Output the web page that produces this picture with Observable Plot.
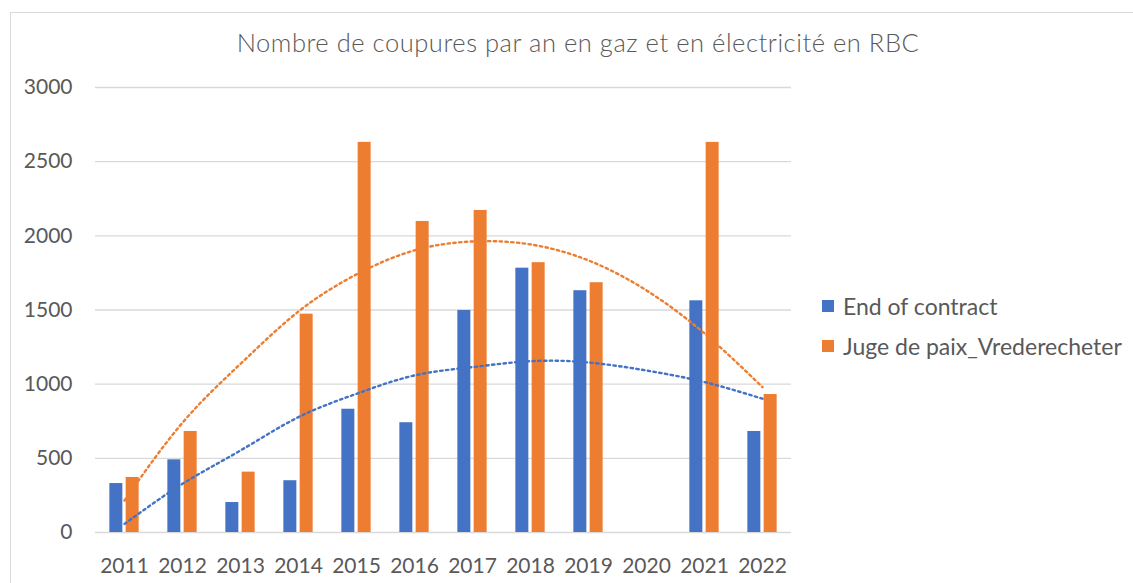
<!DOCTYPE html>
<html>
<head>
<meta charset="utf-8">
<script src="https://cdn.jsdelivr.net/npm/d3@7"></script>
<script src="https://cdn.jsdelivr.net/npm/@observablehq/plot@0.6"></script>
<style>
  html, body { margin: 0; padding: 0; background: #fff; }
  body { width: 1133px; height: 583px; position: relative; overflow: hidden; font-family: Lato, "Open Sans", sans-serif; color: #595959; }
  #frame { position: absolute; left: 10px; top: 12px; width: 1140px; height: 600px; border: 1px solid #d9d9d9; box-sizing: border-box; }
  #title { position: absolute; left: 0; width: 1156px; top: 27px; text-align: center; font-size: 25.5px; letter-spacing: 0.55px; font-weight: 300; color: #595959; white-space: nowrap; }
  #chart { position: absolute; left: 0; top: 60px; }
  #legend { position: absolute; left: 822px; top: 286px; font-size: 23px; color: #595959; }
  .item { display: flex; align-items: center; height: 40px; white-space: nowrap; }
  .sw { width: 12px; height: 12px; margin-right: 9px; }
</style>
</head>
<body>
<div id="frame"></div>
<div id="title">Nombre de coupures par an en gaz et en électricité en RBC</div>
<div id="chart"></div>
<div id="legend"></div>
<script>
const years = ["2011","2012","2013","2014","2015","2016","2017","2018","2019","2020","2021","2022"];
const seriesNames = ["End of contract", "Juge de paix_Vrederecheter"];
const colors = ["#4472C4", "#ED7D31"];
const endOfContract = [330, 490, 202, 349, 831, 740, 1497, 1782, 1630, null, 1562, 681];
const jugeDePaix = [371, 681, 407, 1472, 2630, 2097, 2171, 1819, 1684, null, 2630, 930];
// dotted trendlines (at each year)
const trendEnd = [58, 328, 553, 778, 935, 1059, 1115, 1155, 1146, 1092, 1014, 902];
const trendJuge = [216, 740, 1137, 1490, 1740, 1902, 1962, 1942, 1834, 1632, 1342, 980];
const yTicks = [0, 500, 1000, 1500, 2000, 2500, 3000];

const barsEnd = years.map((yr, i) => ({year: yr, value: endOfContract[i]})).filter(d => d.value != null);
const barsJuge = years.map((yr, i) => ({year: yr, value: jugeDePaix[i]})).filter(d => d.value != null);
const tEnd = years.map((yr, i) => ({year: yr, value: trendEnd[i]}));
const tJuge = years.map((yr, i) => ({year: yr, value: trendJuge[i]}));

const barW = 13, gap = 3.3;
const inset = (58 - barW) / 2;
const off = (barW + gap) / 2;

const chart = Plot.plot({
  width: 800,
  height: 523,
  marginLeft: 95,
  marginRight: 9,
  marginTop: 27,
  marginBottom: 51,
  style: {fontFamily: "Lato, 'Open Sans', sans-serif", fontSize: "21px", color: "#595959", background: "transparent"},
  x: {domain: years, padding: 0, label: null, tickSize: 0, tickPadding: 26},
  y: {domain: [0, 3000], ticks: yTicks, label: null, tickSize: 0, tickPadding: 23, tickFormat: d => String(d)},
  marks: [
    Plot.gridY(yTicks, {stroke: "#d9d9d9", strokeOpacity: 1, strokeWidth: 1.3}),
    Plot.barY(barsEnd, {x: "year", y: "value", fill: colors[0], insetLeft: inset, insetRight: inset, dx: -off}),
    Plot.barY(barsJuge, {x: "year", y: "value", fill: colors[1], insetLeft: inset, insetRight: inset, dx: off}),
    Plot.line(tJuge, {x: "year", y: "value", stroke: colors[1], strokeWidth: 2.4, strokeDasharray: "2.4,3.4", curve: "natural"}),
    Plot.line(tEnd, {x: "year", y: "value", stroke: colors[0], strokeWidth: 2.4, strokeDasharray: "2.4,3.4", curve: "natural"})
  ]
});
document.getElementById("chart").appendChild(chart);

const legend = document.getElementById("legend");
seriesNames.forEach((name, i) => {
  const item = document.createElement("div");
  item.className = "item";
  const sw = document.createElement("div");
  sw.className = "sw";
  sw.style.background = colors[i];
  const label = document.createElement("span");
  label.textContent = name;
  item.appendChild(sw);
  item.appendChild(label);
  legend.appendChild(item);
});
</script>
</body>
</html>
